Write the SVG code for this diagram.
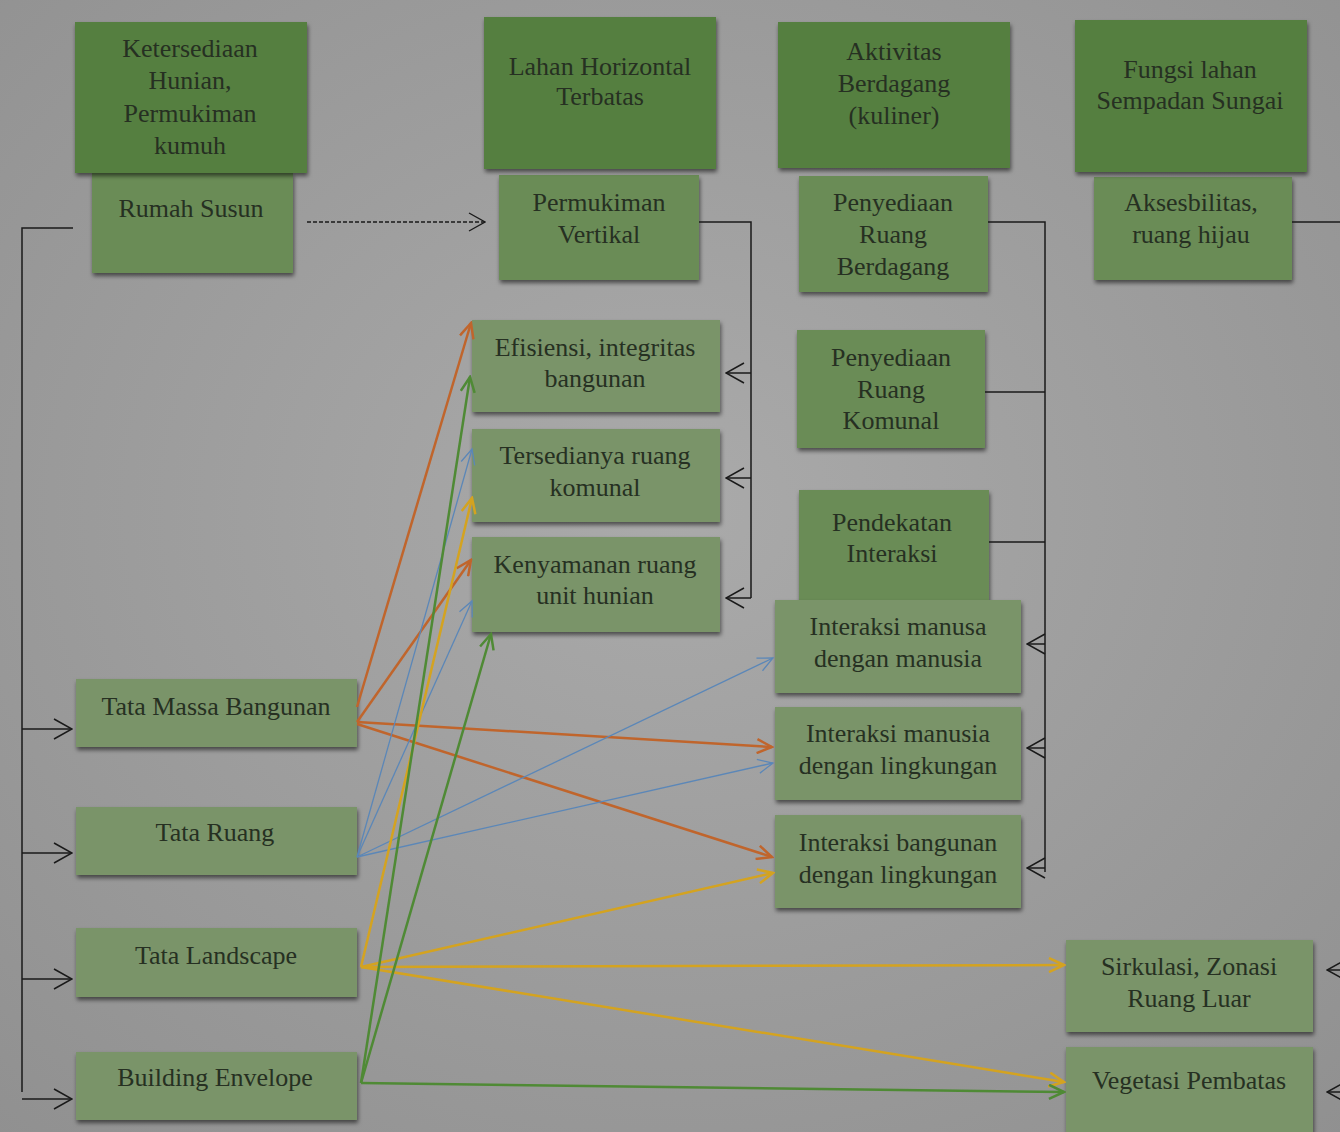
<svg xmlns="http://www.w3.org/2000/svg" width="1340" height="1132" viewBox="0 0 1340 1132" font-family="'Liberation Serif', 'DejaVu Serif', serif">
<defs>
<radialGradient id="bg" cx="50%" cy="45%" r="75%">
<stop offset="0" stop-color="#aaaaaa"/>
<stop offset="1" stop-color="#909090"/>
</radialGradient>
<filter id="sh" x="-10%" y="-10%" width="125%" height="130%">
<feDropShadow dx="1" dy="3" stdDeviation="2" flood-color="#000" flood-opacity="0.55"/>
</filter>
<marker id="ak" viewBox="0 0 20 22" refX="19" refY="11" markerWidth="20" markerHeight="22" markerUnits="userSpaceOnUse" orient="auto"><path d="M1,1 L19,11 L1,21" fill="none" stroke="#1a1a1a" stroke-width="1.5"/></marker>
<marker id="ad" viewBox="0 0 18 20" refX="17" refY="10" markerWidth="18" markerHeight="20" markerUnits="userSpaceOnUse" orient="auto"><path d="M1,1 L17,10 L1,19" fill="none" stroke="#1a1a1a" stroke-width="1.3"/></marker>
<marker id="ao" viewBox="0 0 18 16" refX="16" refY="8" markerWidth="18" markerHeight="16" markerUnits="userSpaceOnUse" orient="auto"><path d="M1,1 L16,8 L1,15" fill="none" stroke="#c0652c" stroke-width="2.5"/></marker>
<marker id="ab" viewBox="0 0 18 16" refX="16" refY="8" markerWidth="18" markerHeight="16" markerUnits="userSpaceOnUse" orient="auto"><path d="M1,1 L16,8 L1,15" fill="none" stroke="#5b87b8" stroke-width="1.3"/></marker>
<marker id="ay" viewBox="0 0 18 16" refX="16" refY="8" markerWidth="18" markerHeight="16" markerUnits="userSpaceOnUse" orient="auto"><path d="M1,1 L16,8 L1,15" fill="none" stroke="#d4a320" stroke-width="2.5"/></marker>
<marker id="ag" viewBox="0 0 18 16" refX="16" refY="8" markerWidth="18" markerHeight="16" markerUnits="userSpaceOnUse" orient="auto"><path d="M1,1 L16,8 L1,15" fill="none" stroke="#4f8a35" stroke-width="2.5"/></marker>
</defs>
<style>
.dk{fill:#557f3f;filter:url(#sh)}
.md{fill:#6a8c56;filter:url(#sh)}
.lt{fill:#7a9469;filter:url(#sh)}
text{font-family:'Liberation Serif','DejaVu Serif',serif;font-size:26px;fill:#263022;text-anchor:middle}
.k{fill:none;stroke:#1a1a1a;stroke-width:1.5}
.o{fill:none;stroke:#c0652c;stroke-width:2.5;marker-end:url(#ao)}
.b{fill:none;stroke:#5b87b8;stroke-width:1.3;marker-end:url(#ab)}
.y{fill:none;stroke:#d4a320;stroke-width:2.5;marker-end:url(#ay)}
.g{fill:none;stroke:#4f8a35;stroke-width:2.5;marker-end:url(#ag)}
</style>
<rect width="1340" height="1132" fill="url(#bg)"/>

<g id="rumah-susun"><rect class="md" x="92" y="173" width="201" height="100"/><text x="191" y="217">Rumah Susun</text></g>
<g id="ketersediaan"><rect class="dk" x="75" y="22" width="232" height="151"/><text x="190" y="57">Ketersediaan</text><text x="190" y="89">Hunian,</text><text x="190" y="122">Permukiman</text><text x="190" y="154">kumuh</text></g>

<g id="permukiman-vertikal"><rect class="md" x="499" y="175" width="200" height="105"/><text x="599" y="211">Permukiman</text><text x="599" y="243">Vertikal</text></g>
<g id="lahan"><rect class="dk" x="484" y="17" width="232" height="152"/><text x="600" y="75">Lahan Horizontal</text><text x="600" y="105">Terbatas</text></g>

<g id="ruang-berdagang"><rect class="md" x="799" y="176" width="189" height="116"/><text x="893" y="211">Penyediaan</text><text x="893" y="243">Ruang</text><text x="893" y="275">Berdagang</text></g>
<g id="aktivitas"><rect class="dk" x="778" y="22" width="232" height="146"/><text x="894" y="60">Aktivitas</text><text x="894" y="92">Berdagang</text><text x="894" y="124">(kuliner)</text></g>

<g id="aksesbilitas"><rect class="md" x="1094" y="177" width="198" height="103"/><text x="1191" y="211">Aksesbilitas,</text><text x="1191" y="243">ruang hijau</text></g>
<g id="fungsi"><rect class="dk" x="1075" y="20" width="232" height="152"/><text x="1190" y="78">Fungsi lahan</text><text x="1190" y="109">Sempadan Sungai</text></g>

<g id="efisiensi"><rect class="lt" x="472" y="320" width="248" height="92"/><text x="595" y="356">Efisiensi, integritas</text><text x="595" y="387">bangunan</text></g>
<g id="tersedianya"><rect class="lt" x="472" y="429" width="248" height="93"/><text x="595" y="464">Tersedianya ruang</text><text x="595" y="496">komunal</text></g>
<g id="kenyamanan"><rect class="lt" x="472" y="537" width="248" height="95"/><text x="595" y="573">Kenyamanan ruang</text><text x="595" y="604">unit hunian</text></g>

<g id="ruang-komunal"><rect class="md" x="797" y="330" width="188" height="118"/><text x="891" y="366">Penyediaan</text><text x="891" y="398">Ruang</text><text x="891" y="429">Komunal</text></g>
<g id="pendekatan"><rect class="md" x="799" y="490" width="190" height="115"/><text x="892" y="531">Pendekatan</text><text x="892" y="562">Interaksi</text></g>

<g id="interaksi-mm"><rect class="lt" x="775" y="600" width="246" height="93"/><text x="898" y="635">Interaksi manusa</text><text x="898" y="667">dengan manusia</text></g>
<g id="interaksi-ml"><rect class="lt" x="775" y="707" width="246" height="93"/><text x="898" y="742">Interaksi manusia</text><text x="898" y="774">dengan lingkungan</text></g>
<g id="interaksi-bl"><rect class="lt" x="775" y="815" width="246" height="93"/><text x="898" y="851">Interaksi bangunan</text><text x="898" y="883">dengan lingkungan</text></g>

<g id="tata-massa"><rect class="lt" x="76" y="679" width="281" height="68"/><text x="216" y="715">Tata Massa Bangunan</text></g>
<g id="tata-ruang"><rect class="lt" x="76" y="807" width="281" height="68"/><text x="215" y="841">Tata Ruang</text></g>
<g id="tata-landscape"><rect class="lt" x="76" y="928" width="281" height="69"/><text x="216" y="964">Tata Landscape</text></g>
<g id="building-envelope"><rect class="lt" x="76" y="1052" width="281" height="68"/><text x="215" y="1086">Building Envelope</text></g>

<g id="sirkulasi"><rect class="lt" x="1066" y="940" width="247" height="92"/><text x="1189" y="975">Sirkulasi, Zonasi</text><text x="1189" y="1007">Ruang Luar</text></g>
<g id="vegetasi"><rect class="lt" x="1066" y="1047" width="247" height="100"/><text x="1189" y="1089">Vegetasi Pembatas</text></g>

<g id="connectors">
<path class="k" d="M73,228 H22 V1092"/>
<path class="k" d="M22,729 H72" marker-end="url(#ak)"/>
<path class="k" d="M22,853 H72" marker-end="url(#ak)"/>
<path class="k" d="M22,979 H72" marker-end="url(#ak)"/>
<path class="k" d="M22,1099 H72" marker-end="url(#ak)"/>
<path class="k" d="M307,222 H485" stroke-dasharray="4 2" marker-end="url(#ad)"/>
<path class="k" d="M699,222 H751 V598"/>
<path class="k" d="M751,373 H726" marker-end="url(#ak)"/>
<path class="k" d="M751,478 H726" marker-end="url(#ak)"/>
<path class="k" d="M751,598 H726" marker-end="url(#ak)"/>
<path class="k" d="M988,222 H1045 V872"/>
<path class="k" d="M985,392 H1045"/>
<path class="k" d="M989,542 H1045"/>
<path class="k" d="M1045,644 H1027" marker-end="url(#ak)"/>
<path class="k" d="M1045,748 H1027" marker-end="url(#ak)"/>
<path class="k" d="M1045,868 H1027" marker-end="url(#ak)"/>
<path class="k" d="M1292,222 H1340"/>
<path class="k" d="M1345,970 H1327" marker-end="url(#ak)"/>
<path class="k" d="M1345,1092 H1327" marker-end="url(#ak)"/>

<path class="o" d="M357,707 L471,323"/>
<path class="o" d="M357,722 L471,560"/>
<path class="o" d="M357,722 L772,747"/>
<path class="o" d="M357,724 L772,857"/>

<path class="b" d="M357,857 L472,449"/>
<path class="b" d="M357,857 L472,601"/>
<path class="b" d="M357,857 L773,658"/>
<path class="b" d="M357,857 L773,763"/>

<path class="y" d="M361,967 L472,498"/>
<path class="y" d="M361,967 L773,873"/>
<path class="y" d="M361,967 L1064,965"/>
<path class="y" d="M361,967 L1064,1082"/>

<path class="g" d="M361,1083 L470,377"/>
<path class="g" d="M361,1083 L491,634"/>
<path class="g" d="M361,1083 L1064,1092"/>
</g>
</svg>
